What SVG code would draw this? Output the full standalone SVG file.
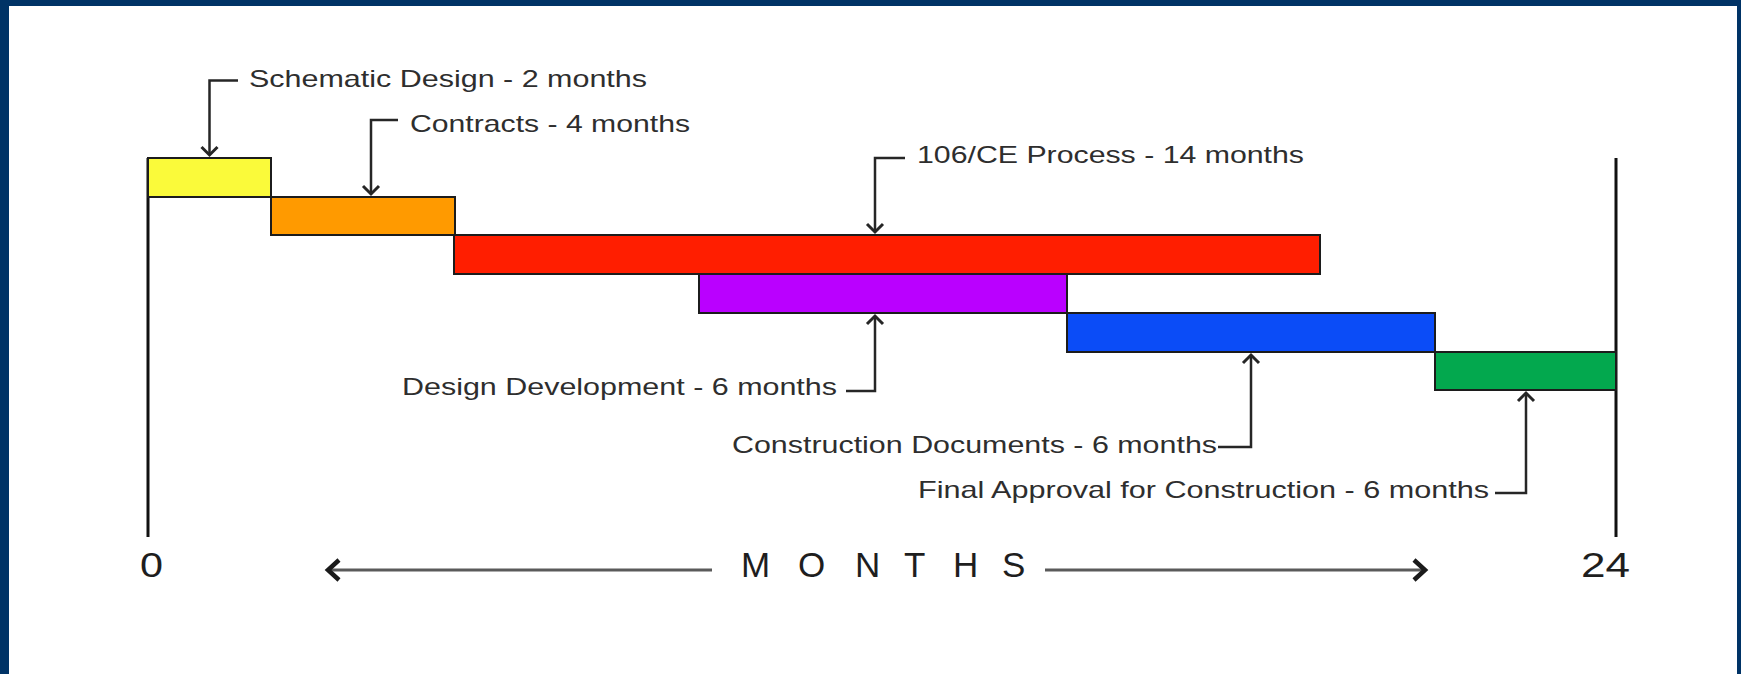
<svg xmlns="http://www.w3.org/2000/svg" width="1741" height="674" viewBox="0 0 1741 674">
  <style>
    .bar { stroke: #1c1c1c; stroke-width: 2; }
    .lbl { font-family: "Liberation Sans", Arial, sans-serif; font-size: 24px; fill: #2e2e2e; }
    .axl { font-family: "Liberation Sans", Arial, sans-serif; font-size: 35px; fill: #1e1e1e; }
    .lead { fill: none; stroke: #262626; stroke-width: 2.5; marker-end: url(#ah); }
    .axis { stroke: #111; stroke-width: 3; }
    .marr { stroke: #5a5a5a; stroke-width: 3; fill: none; marker-end: url(#ah2); }
  </style>
  <defs>
    <marker id="ah" viewBox="-12 -12 24 24" refX="0" refY="0" markerWidth="24" markerHeight="24" markerUnits="userSpaceOnUse" orient="auto">
      <path d="M-8,-8 L0,0 L-8,8" fill="none" stroke="#262626" stroke-width="3"/>
    </marker>
    <marker id="ah2" viewBox="-16 -16 32 32" refX="0" refY="0" markerWidth="32" markerHeight="32" markerUnits="userSpaceOnUse" orient="auto">
      <path d="M-11,-10 L0,0 L-11,10" fill="none" stroke="#1a1a1a" stroke-width="4.5"/>
    </marker>
  </defs>

  <!-- background and frame -->
  <rect x="0" y="0" width="1741" height="674" fill="#ffffff"/>
  <rect x="0" y="0" width="9" height="674" fill="#003366"/>
  <rect x="0" y="0" width="1741" height="6" fill="#003366"/>
  <rect x="1737" y="0" width="4" height="674" fill="#003366"/>

  <!-- axis -->
  <g id="axis">
    <line class="axis" x1="148" y1="158" x2="148" y2="537"/>
    <line class="axis" x1="1616" y1="158" x2="1616" y2="537"/>
    <text class="axl" x="140" y="577" textLength="23" lengthAdjust="spacingAndGlyphs">0</text>
    <text class="axl" x="1581" y="577" textLength="49" lengthAdjust="spacingAndGlyphs">24</text>
    <text class="axl" x="741 798 855 904 953 1002" y="577">MONTHS</text>
    <line class="marr" x1="712" y1="570" x2="328" y2="570"/>
    <line class="marr" x1="1045" y1="570" x2="1425" y2="570"/>
  </g>

  <!-- bars -->
  <g id="schematic-design">
    <rect class="bar" x="148" y="158" width="123" height="39" fill="#fafa3a"/>
    <text class="lbl" x="249" y="87" textLength="398" lengthAdjust="spacingAndGlyphs">Schematic Design - 2 months</text>
  </g>
  <g id="contracts">
    <rect class="bar" x="271" y="197" width="184" height="38" fill="#ff9a00"/>
    <text class="lbl" x="410" y="132" textLength="280" lengthAdjust="spacingAndGlyphs">Contracts - 4 months</text>
  </g>
  <g id="ce-process">
    <rect class="bar" x="454" y="235" width="866" height="39" fill="#ff1e00"/>
    <text class="lbl" x="917" y="163" textLength="387" lengthAdjust="spacingAndGlyphs">106/CE Process - 14 months</text>
  </g>
  <g id="design-development">
    <rect class="bar" x="699" y="274" width="368" height="39" fill="#ba00ff"/>
    <text class="lbl" x="402" y="395" textLength="435" lengthAdjust="spacingAndGlyphs">Design Development - 6 months</text>
  </g>
  <g id="construction-documents">
    <rect class="bar" x="1067" y="313" width="368" height="39" fill="#0b4cf7"/>
    <text class="lbl" x="732" y="453" textLength="485" lengthAdjust="spacingAndGlyphs">Construction Documents - 6 months</text>
  </g>
  <g id="final-approval">
    <rect class="bar" x="1435" y="352" width="181" height="38" fill="#03a84e"/>
    <text class="lbl" x="918" y="498" textLength="571" lengthAdjust="spacingAndGlyphs">Final Approval for Construction - 6 months</text>
  </g>

  <!-- connectors -->
  <g id="connectors">
    <path class="lead" d="M238,80.5 H209.5 V155"/>
    <path class="lead" d="M398,120 H371 V194"/>
    <path class="lead" d="M905,158 H875 V232"/>
    <path class="lead" d="M846,391 H875 V316"/>
    <path class="lead" d="M1218,447 H1251 V355"/>
    <path class="lead" d="M1495,493 H1526 V393"/>
  </g>
</svg>
